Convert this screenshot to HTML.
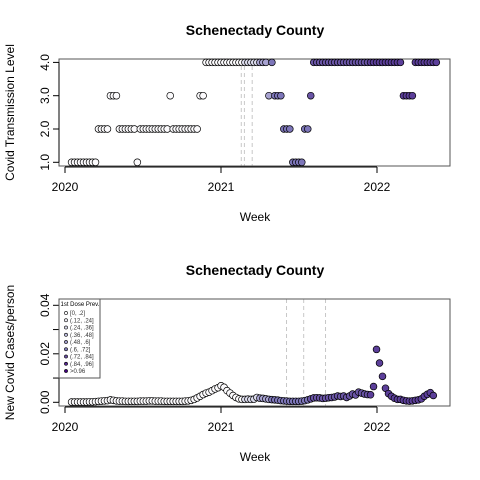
<!DOCTYPE html>
<html><head><meta charset="utf-8"><style>
body{margin:0;background:#fff}
svg{display:block;font-family:"Liberation Sans",sans-serif}
</style></head><body>
<svg id="chart" width="480" height="480" viewBox="0 0 480 480" xmlns="http://www.w3.org/2000/svg">
<rect width="480" height="480" fill="#fff"/>
<g id="top"></g><g id="bot"></g>
</svg>
<script>
const years = [2020, 2021, 2022];
const levelTicks = [1, 2, 3, 4];
const levelTickLabels = ["1.0", "2.0", "3.0", "4.0"];
const caseTicks = [0, 0.01, 0.02, 0.03, 0.04];
const caseTickLabels = ["0.00", "", "0.02", "", "0.04"];
const topDashWeeks = [2021.13, 2021.15, 2021.2];
const botDashWeeks = [2021.42, 2021.53, 2021.67];
const levelRuns = [[1,9],[2,4],[3,3],[2,6],[1,1],[2,10],[3,1],[2,9],[3,2],[4,21],[3,1],[4,1],[3,3],[2,3],[1,4],[2,2],[3,1],[4,30],[3,4],[4,8]];
const levels = [];
levelRuns.forEach(r => { for (let k = 0; k < r[1]; k++) levels.push(r[0]); });
const cases = [0.0001,0.0001,0.0001,0.0001,0.0001,0.0001,0.0002,0.0002,0.0003,0.0004,
0.0005,0.0006,0.0007,0.0010,0.0008,0.0006,0.0005,0.0005,0.0004,0.0004,
0.0004,0.0004,0.0004,0.0005,0.0005,0.0005,0.0006,0.0006,0.0005,0.0005,
0.0005,0.0004,0.0004,0.0004,0.0004,0.0004,0.0004,0.0004,0.0005,0.0006,
0.0008,0.0012,0.0018,0.0025,0.0032,0.0038,0.0042,0.0048,0.0055,0.0060,
0.0068,0.0062,0.0048,0.0038,0.0028,0.0020,0.0014,0.0012,0.0012,0.0013,
0.0012,0.0013,0.0020,0.0017,0.0016,0.0014,0.0012,0.0011,0.0010,0.0009,
0.0007,0.0006,0.0005,0.0004,0.0004,0.0004,0.0004,0.0005,0.0007,0.0010,
0.0014,0.0018,0.0019,0.0018,0.0016,0.0017,0.0019,0.0020,0.0022,0.0026,
0.0024,0.0026,0.0020,0.0026,0.0034,0.0030,0.0042,0.0038,0.0034,0.0032,
0.0031,0.0065,0.0218,0.0162,0.0107,0.0058,0.0036,0.0025,0.0017,0.0012,
0.0012,0.0008,0.0006,0.0005,0.0006,0.0008,0.0010,0.0014,0.0025,0.0033,0.0040,0.0028];
const legendLabels = ["[0, .2]","(.12, .24]","(.24, .36]","(.36, .48]","(.48, .6]","(.6, .72]","(.72, .84]","(.84, .96]",">0.96"];
const legendColors = ["#fcfbfd","#efedf5","#dadaeb","#bcbddc","#9e9ac8","#807dba","#6a51a3","#54278f","#3f007d"];

const NS = "http://www.w3.org/2000/svg";
function mk(parent, tag, attrs, txt){const e=document.createElementNS(NS,tag);for(const k in attrs)e.setAttribute(k,attrs[k]);if(txt!==undefined)e.textContent=txt;parent.appendChild(e);return e;}
const xs = t => 65 + (t - 2020) * 156;
const weekT = i => 2020 + (i + 2.2) / 52.18;
function colorFor(i){ if(i<58) return "#fcfbfd"; if(i<63) return "#dadaeb"; if(i<67) return "#a7a2d0"; if(i<80) return "#7d76b9"; if(i<100) return "#6a55a6"; return "#5c3f9a"; }

function panel(g, top, title, ylab, yScale, yt, ytl, dashes){
  const L=59,R=450,T=top,B=top+107;
  const t=mk(g,'text',{x:255,y:top-24,'text-anchor':'middle','font-size':14,'font-weight':'bold'},title);
  
  dashes.forEach(d=>{const l=mk(g,'line',{x1:xs(d),x2:xs(d),y1:T,y2:B,stroke:'#c8c8c8','stroke-dasharray':'4,3'});
    });
  const bx=mk(g,'rect',{x:L,y:T,width:R-L,height:B-T,fill:'none',stroke:'#555','stroke-width':1});
  
  const xa=mk(g,'g',{});
  mk(xa,'line',{x1:xs(2020),x2:xs(2022),y1:B+1,y2:B+1,stroke:'#000'});
  years.forEach(y=>{mk(xa,'line',{x1:xs(y),x2:xs(y),y1:B+1,y2:B+7,stroke:'#000'});
    const tl=mk(xa,'text',{x:xs(y),y:B+25,'text-anchor':'middle','font-size':12},String(y));
    });
  const wl=mk(g,'text',{x:255,y:B+55,'text-anchor':'middle','font-size':12},'Week');
  
  const ya=mk(g,'g',{});
  mk(ya,'line',{x1:L,x2:L,y1:yScale(yt[0]),y2:yScale(yt[yt.length-1]),stroke:'#000'});
  yt.forEach((v,k)=>{mk(ya,'line',{x1:L-6,x2:L,y1:yScale(v),y2:yScale(v),stroke:'#000'});
    const tl=mk(ya,'text',{x:L-10,y:yScale(v),'text-anchor':'middle','font-size':12,transform:`rotate(-90 ${L-10} ${yScale(v)})`},ytl[k]);
    });
  const yl=mk(g,'text',{x:14,y:(T+B)/2,'text-anchor':'middle','font-size':12,transform:`rotate(-90 14 ${(T+B)/2})`},ylab);
  
}
const topG=document.getElementById('top'), botG=document.getElementById('bot');
const yTop=v=>162.3-(v-1)*33.3;
const yBot=v=>402.3-v*2425;
panel(topG,59,'Schenectady County','Covid Transmission Level',yTop,levelTicks,levelTickLabels,topDashWeeks);
panel(botG,299,'Schenectady County','New Covid Cases/person',yBot,caseTicks,caseTickLabels,botDashWeeks);
levels.forEach((v,i)=>{const c=mk(topG,'circle',{cx:xs(weekT(i)),cy:yTop(v),r:3.4,fill:colorFor(i),stroke:'#000','stroke-width':0.7});
  });
cases.forEach((v,i)=>{const c=mk(botG,'circle',{cx:xs(weekT(i)),cy:yBot(v),r:3.4,fill:colorFor(i),stroke:'#000','stroke-width':0.7});
  });
const lg=mk(botG,'g',{});


mk(lg,'rect',{x:59,y:299,width:41,height:79,fill:'#fff',stroke:'#555','stroke-width':1});
mk(lg,'text',{x:60.5,y:306,'font-size':6},'1st Dose Prev.');
legendLabels.forEach((lab,k)=>{const y=313+k*7.25;
  const e=mk(lg,'g',{});
  mk(e,'circle',{cx:66,cy:y,r:1.6,fill:legendColors[k],stroke:'#000','stroke-width':0.6});
  mk(e,'text',{x:70,y:y+2,'font-size':6,fill:'#333'},lab);});
</script>
</body></html>
